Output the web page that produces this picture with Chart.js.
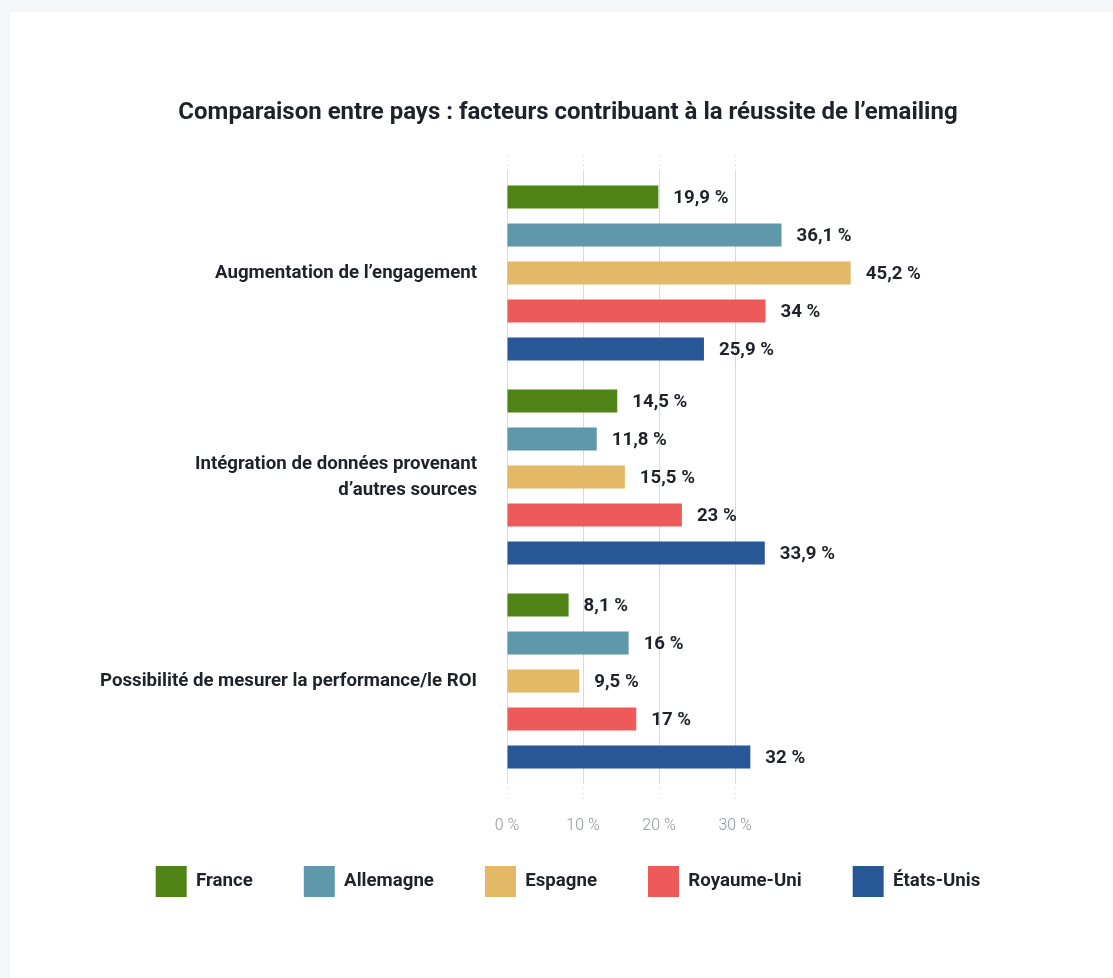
<!DOCTYPE html>
<html lang="fr">
<head>
<meta charset="UTF-8" />
<title>Comparaison entre pays</title>
<style>
  body {
    margin: 0;
    background: #f4f7fa;
    font-family: 'Roboto', sans-serif;
    overflow: hidden;
  }
  .card {
    position: absolute;
    left: 10px;
    top: 12px;
    width: 1116px;
    height: 966px;
    background: #fff;
  }
  canvas { display: block; }
</style>
</head>
<body>
<div class="card">
  <canvas id="chart" width="1116" height="966"></canvas>
</div>

<script src="https://cdn.jsdelivr.net/npm/chart.js"></script>
<script>
  // data
  const categories = [
    'Augmentation de l’engagement',
    ['Intégration de données provenant', 'd’autres sources'],
    'Possibilité de mesurer la performance/le ROI'
  ];
  const countries = ['France', 'Allemagne', 'Espagne', 'Royaume-Uni', 'États-Unis'];
  const france     = [19.9, 14.5, 8.1];
  const allemagne  = [36.1, 11.8, 16];
  const espagne    = [45.2, 15.5, 9.5];
  const royaumeUni = [34, 23, 17];
  const etatsUnis  = [25.9, 33.9, 32];
  const tickValues = [0, 10, 20, 30];

  const colors = ['#4f8316', '#5e98aa', '#e3b866', '#ee5a5a', '#275796'];
  const seriesList = [france, allemagne, espagne, royaumeUni, etatsUnis];

  const textColor = '#1f2329';
  const gridColor = '#d6dbe0';
  const labelSize = 18.67;

  const fmt = v => String(v).replace('.', ',') + ' %';

  // value labels at the end of each bar + x tick labels under the axis
  const extraLabels = {
    id: 'extraLabels',
    afterDatasetsDraw(chart) {
      const ctx = chart.ctx;
      ctx.save();
      ctx.font = 'bold ' + labelSize + 'px Roboto';
      ctx.fillStyle = textColor;
      ctx.textAlign = 'left';
      ctx.textBaseline = 'middle';
      chart.data.datasets.forEach((ds, i) => {
        chart.getDatasetMeta(i).data.forEach((bar, j) => {
          ctx.fillText(fmt(ds.data[j]), bar.x + 15, bar.y + 1);
        });
      });

      const x = chart.scales.x;
      ctx.font = '300 16px Roboto';
      ctx.fillStyle = '#8c96a3';
      ctx.textAlign = 'center';
      tickValues.forEach(v => {
        ctx.fillText(v + ' %', x.getPixelForValue(v), x.top + 43);
      });
      ctx.restore();
    }
  };

  const onlyTicks = scale => {
    scale.ticks = tickValues.map(v => ({ value: v }));
  };

  const dotted = {
    color: gridColor,
    lineWidth: 1,
    borderDash: [1, 4],
    tickBorderDash: [1, 4],
    tickColor: gridColor
  };

  new Chart(document.getElementById('chart'), {
    type: 'bar',
    data: {
      labels: categories,
      datasets: countries.map((c, i) => ({
        label: c,
        data: seriesList[i],
        backgroundColor: colors[i],
        borderWidth: 0,
        categoryPercentage: 0.931,
        barPercentage: 0.605
      }))
    },
    plugins: [extraLabels],
    options: {
      indexAxis: 'y',
      responsive: false,
      animation: false,
      devicePixelRatio: 1,
      layout: { padding: { left: 0, right: 0, top: 0, bottom: 71 } },
      scales: {
        x: {
          position: 'bottom',
          min: 0,
          max: 81.4,
          afterBuildTicks: onlyTicks,
          afterFit: scale => { scale.height = 32; },
          grid: Object.assign({ tickLength: 17 }, dotted),
          border: { display: false },
          ticks: { display: false }
        },
        x2: {
          display: true,
          position: 'top',
          axis: 'x',
          min: 0,
          max: 81.4,
          afterBuildTicks: onlyTicks,
          grid: Object.assign({ tickLength: 16, drawOnChartArea: false }, dotted),
          border: { display: false },
          ticks: { display: false }
        },
        y: {
          grid: { display: false, drawTicks: false },
          border: { display: false },
          afterFit: scale => { scale.width = 497; },
          ticks: {
            padding: 30,
            color: textColor,
            font: { family: 'Roboto', size: labelSize, weight: 'bold', lineHeight: 1.39 }
          }
        }
      },
      plugins: {
        tooltip: { enabled: false },
        title: {
          display: true,
          text: 'Comparaison entre pays : facteurs contribuant à la réussite de l’emailing',
          color: textColor,
          font: { family: 'Roboto', size: 24, weight: 'bold', lineHeight: 1.2 },
          padding: { top: 86.6, bottom: 27.6 }
        },
        legend: {
          position: 'bottom',
          labels: {
            boxWidth: 31,
            boxHeight: 31,
            padding: 51,
            color: textColor,
            font: { family: 'Roboto', size: labelSize, weight: 'bold' }
          }
        }
      }
    }
  });
</script>
</body>
</html>
